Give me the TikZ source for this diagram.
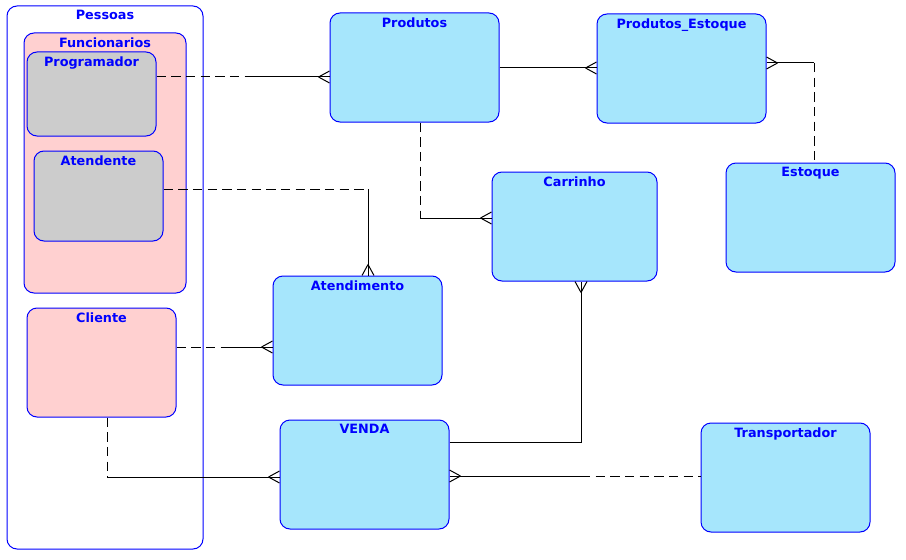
\documentclass[tikz,border=0pt]{standalone}
\usepackage{fontspec}
\setmainfont{DejaVu Sans}
\definecolor{entazul}{HTML}{A6E6FC}
\definecolor{rosa}{HTML}{FFD0D0}
\definecolor{cinza}{HTML}{CCCCCC}
\definecolor{borda}{HTML}{0000FF}
\tikzset{
    caixa/.style    = {draw = borda, line width = 0.75pt, rounded corners = 7.5pt, inner sep = 0pt},
    entidade/.style = {caixa, fill = entazul, minimum width = 126.75pt, minimum height = 81.75pt},
    titulo/.style   = {anchor = north, inner sep = 3.6pt, text = borda, font = \fontsize{9.6}{11}\selectfont\bfseries},
    conector/.style = {line width = 0.75pt, black},
    opcional/.style = {conector, dash pattern = on 7pt off 4pt},
    pegalinha/.pic  = {\draw[conector] (-11,0) -- (0,6) (-11,0) -- (0,-6);}
}
\begin{document}
\begin{tikzpicture}[x = 0.75pt, y = -0.75pt]
    \useasboundingbox (0,0) rectangle (906,560);
    % pessoas
    \node [caixa, fill = white, minimum width = 147pt,   minimum height = 407.25pt, label = {[titulo]north:Pessoas}]      (pessoas) at (105,277.5) {};
    \node [caixa, fill = rosa,  minimum width = 121.5pt, minimum height = 195pt,    label = {[titulo]north:Funcionarios}] (func)    at (105,163)   {};
    \node [caixa, fill = cinza, minimum width = 96.75pt, minimum height = 63pt,     label = {[titulo]north:Programador}]  (prog)    at (91.5,94)   {};
    \node [caixa, fill = cinza, minimum width = 96.75pt, minimum height = 67.5pt,   label = {[titulo]north:Atendente}]    (atend)   at (98.5,196)  {};
    \node [caixa, fill = rosa,  minimum width = 111.75pt, minimum height = 81.75pt, label = {[titulo]north:Cliente}]      (cli)     at (101.5,362.5) {};
    % entidades
    \node [entidade, label = {[titulo]north:Produtos}]         (prod)    at (414.5,67.5)  {};
    \node [entidade, label = {[titulo]north:Produtos\_Estoque}] (prodest) at (681.5,68.5)  {};
    \node [entidade, label = {[titulo]north:Estoque}]          (estoque) at (810.5,217.5) {};
    \node [entidade, minimum width = 123.75pt, label = {[titulo]north:Carrinho}] (carr) at (574.5,226.5) {};
    \node [entidade, label = {[titulo]north:Atendimento}]      (atdm)    at (357.5,330.5) {};
    \node [entidade, label = {[titulo]north:VENDA}]            (venda)   at (364.5,474.5) {};
    \node [entidade, label = {[titulo]north:Transportador}]    (transp)  at (785.5,477.5) {};
    % pontos das ligacoes
    \coordinate (m1) at (246,77);
    \coordinate (c2) at (368,189);
    \coordinate (c3) at (420,218);
    \coordinate (m4) at (548,68);
    \coordinate (c5) at (814,63);
    \coordinate (m6) at (230,347);
    \coordinate (c7) at (107,477);
    \coordinate (c8) at (581,442);
    \coordinate (m9) at (581,476);
    % ligacoes
    \draw [opcional] (prog.east |- m1) -- (m1);
    \draw [conector] (m1) -- (prod.west |- m1);
    \pic at (prod.west |- m1) {pegalinha};

    \draw [opcional] (atend.east |- c2) -- (c2);
    \draw [conector] (c2) -- (atdm.north -| c2);
    \pic [rotate = -90] at (atdm.north -| c2) {pegalinha};

    \draw [opcional] (prod.south -| c3) -- (c3);
    \draw [conector] (c3) -- (carr.west |- c3);
    \pic at (carr.west |- c3) {pegalinha};

    \draw [conector] (prod.east |- m4) -- (prodest.west |- m4);
    \pic at (prodest.west |- m4) {pegalinha};

    \draw [conector] (prodest.east |- c5) -- (c5);
    \draw [opcional] (c5) -- (estoque.north -| c5);
    \pic [rotate = 180] at (prodest.east |- c5) {pegalinha};

    \draw [opcional] (cli.east |- m6) -- (m6);
    \draw [conector] (m6) -- (atdm.west |- m6);
    \pic at (atdm.west |- m6) {pegalinha};

    \draw [opcional] (cli.south -| c7) -- (c7);
    \draw [conector] (c7) -- (venda.west |- c7);
    \pic at (venda.west |- c7) {pegalinha};

    \draw [conector] (venda.east |- c8) -- (c8) -- (carr.south -| c8);
    \pic [rotate = 90] at (carr.south -| c8) {pegalinha};

    \draw [conector] (venda.east |- m9) -- (m9);
    \draw [opcional] (m9) -- (transp.west |- m9);
    \pic [rotate = 180] at (venda.east |- m9) {pegalinha};
\end{tikzpicture}
\end{document}
